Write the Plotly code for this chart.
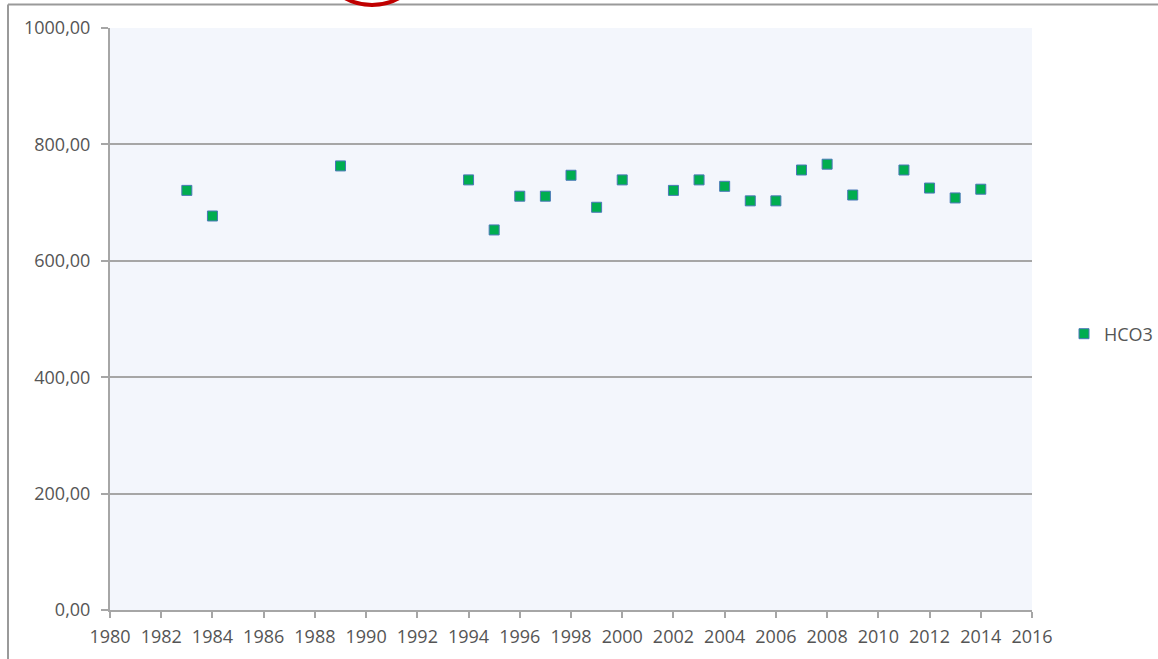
import plotly.graph_objects as go

years = [1983, 1984, 1989, 1994, 1995, 1996, 1997, 1998, 1999, 2000, 2002,
         2003, 2004, 2005, 2006, 2007, 2008, 2009, 2011, 2012, 2013, 2014]
hco3 = [721, 677, 763, 739, 653, 711, 711, 747, 692, 739, 721,
        739, 728, 703, 703, 756, 766, 713, 756, 725, 708, 723]

y_ticks = [0, 200, 400, 600, 800, 1000]
y_labels = ["0,00", "200,00", "400,00", "600,00", "800,00", "1000,00"]
x_ticks = list(range(1980, 2017, 2))

# figure slightly wider than the 1158px window; overflow is hidden
W, H = 1220, 659
L, R, T, B = 110, 1220 - 1032, 28, 49
pw, ph = W - L - R, H - T - B

def px(x):
    return (x - L) / pw

def py(y):
    return (H - B - y) / ph

fig = go.Figure()
fig.add_trace(go.Scatter(
    x=years, y=hco3, mode="markers", name="HCO3",
    marker=dict(symbol="square", size=10, color="#00ad4f",
                line=dict(color="#4a78b8", width=1)),
))

font = dict(family="Open Sans", size=18, color="#555555")
grey = "#a6a6a6"

fig.update_layout(
    width=W, height=H,
    margin=dict(l=L, r=R, t=T, b=B),
    paper_bgcolor="white", plot_bgcolor="#f3f6fc",
    font=font,
    showlegend=True,
    legend=dict(x=px(1064), y=py(334), xanchor="left", yanchor="middle",
                font=font, bgcolor="rgba(0,0,0,0)", itemwidth=30),
    xaxis=dict(range=[1980, 2016], tickvals=x_ticks, showgrid=False,
               showline=True, linecolor=grey, linewidth=2,
               ticks="outside", ticklen=6, tickcolor=grey, tickwidth=2,
               zeroline=False, tickfont=font, ticklabelstandoff=3),
    yaxis=dict(range=[0, 1000], tickvals=y_ticks, ticktext=y_labels,
               showgrid=True, gridcolor=grey, gridwidth=2,
               showline=True, linecolor=grey, linewidth=2,
               ticks="outside", ticklen=7, tickcolor=grey, tickwidth=2,
               zeroline=False, tickfont=font, ticklabelstandoff=7),
)

# outer frame lines of the screenshot
fig.add_shape(type="line", xref="paper", yref="paper",
              x0=px(8), x1=px(8), y0=py(H + 5), y1=py(4.5),
              line=dict(color="#9a9a9a", width=2))
fig.add_shape(type="line", xref="paper", yref="paper",
              x0=px(8), x1=px(W + 5), y0=py(4.5), y1=py(4.5),
              line=dict(color="#9a9a9a", width=2))
# red circle partially visible at top
fig.add_shape(type="circle", xref="paper", yref="paper",
              x0=px(372 - 55), x1=px(372 + 55), y0=py(5), y1=py(-105),
              line=dict(color="#c00000", width=4))

fig.write_html(
    "out.html",
    config={"displayModeBar": False},
    post_script="document.body.style.margin='0';document.body.style.overflow='hidden';",
)
